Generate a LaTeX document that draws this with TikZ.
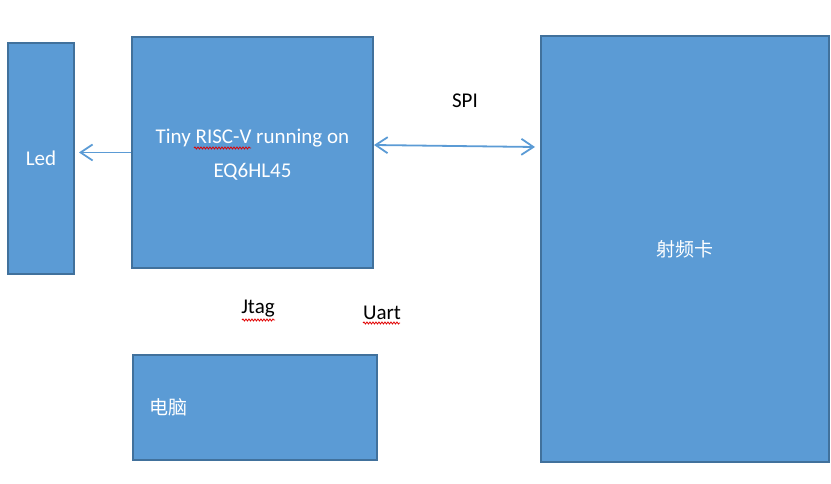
\documentclass[tikz,border=0pt]{standalone}
\usepackage{fontspec}
\setmainfont{Carlito}
\newfontfamily\cjk{Noto Sans CJK SC}
\usetikzlibrary{arrows.meta,decorations.pathmorphing}
\definecolor{boxfill}{HTML}{5B9BD5}
\definecolor{boxline}{HTML}{41719C}
\definecolor{squig}{HTML}{E00000}
\tikzset{
  blk/.style={draw=boxline, fill=boxfill, line width=2pt, anchor=north west, inner sep=0pt,
    text=white, font=\fontsize{21}{34}\selectfont, align=center},
  intext/.style={text=white, font=\fontsize{21}{34}\selectfont, align=center, inner sep=0pt},
  lbl/.style={text=black, font=\fontsize{21}{25}\selectfont, inner sep=0pt},
  arr/.style={draw=boxfill, line width=1.8pt, -{Straight Barb[length=12pt,width=16pt,line width=1.8pt]}},
  darr/.style={draw=boxfill, line width=1.8pt, {Straight Barb[length=12pt,width=16pt,line width=1.8pt]}-{Straight Barb[length=12pt,width=16pt,line width=1.8pt]}},
  wavy/.style={draw=squig, line width=0.8pt, decorate, decoration={snake, amplitude=1pt, segment length=3pt}}
}
\begin{document}
\begin{tikzpicture}[x=1pt,y=-1pt]
\useasboundingbox (0,0) rectangle (831,484);
\node[blk, minimum width=66pt, minimum height=231pt] (led) at (7,42) {Led};
\node[blk, minimum width=241pt, minimum height=231pt] (cpu) at (131,36) {};
\node[intext] (cput) at ([yshift=-2.5pt]cpu.center) {Tiny RISC-V running on\\EQ6HL45};
\node[blk, minimum width=288pt, minimum height=426pt] (rf) at (540,35) {\cjk\fontsize{19}{23}\selectfont 射频卡};
\node[blk, minimum width=244pt, minimum height=105pt] (pc) at (132,354) {};
\node[text=white, font=\fontsize{19}{23}\selectfont\cjk, anchor=west, inner sep=0pt] (pct) at ([xshift=17pt]pc.west) {电脑};
\node[lbl] (spi) at (465,101) {SPI};
\node[lbl] (jtag) at (258,309) {Jtag};
\node[lbl] (uart) at (382,313) {Uart};
\coordinate (w1a) at (194,148); \coordinate (w1b) at (251,148);
\coordinate (w2a) at (242,320); \coordinate (w2b) at (275,320);
\coordinate (w3a) at (363,323); \coordinate (w3b) at (400,323);
\draw[wavy] (w1a) -- (w1b);
\draw[wavy] (w2a) -- (w2b);
\draw[wavy] (w3a) -- (w3b);
\draw[arr] (cpu.west) -- ([xshift=4pt]led.east |- cpu.west);
\draw[darr] ([yshift=7.5pt]cpu.east) -- ([xshift=-5pt,yshift=102pt]rf.west);
\end{tikzpicture}
\end{document}
